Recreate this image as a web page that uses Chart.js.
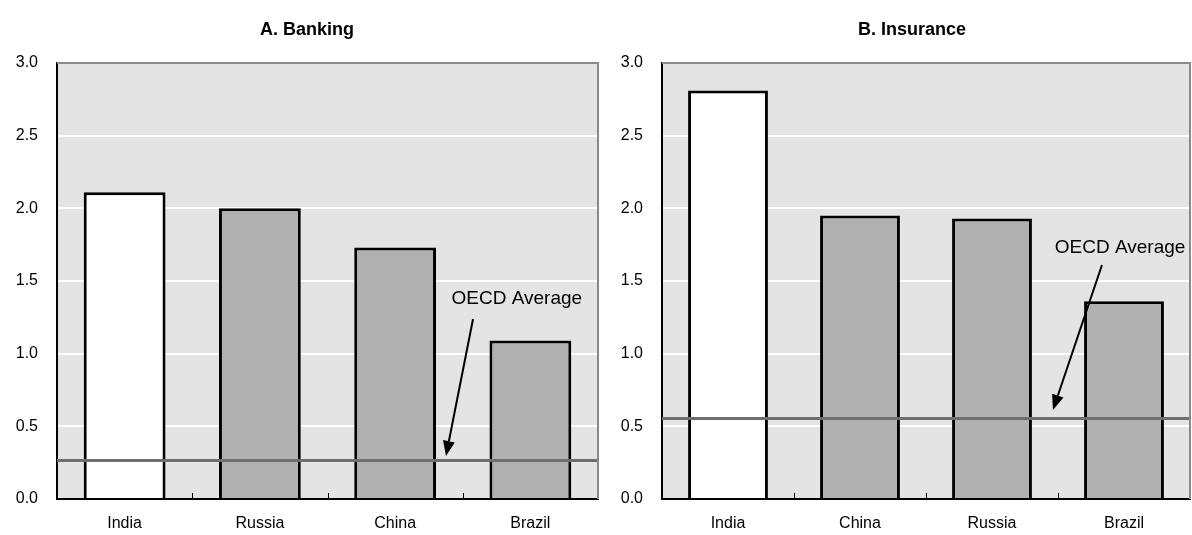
<!DOCTYPE html>
<html><head><meta charset="utf-8">
<script src="https://cdn.jsdelivr.net/npm/chart.js@4.4.1/dist/chart.umd.min.js"></script>
<style>
html,body{margin:0;padding:0;background:#fff;overflow:hidden;width:1192px;height:535px}
#a{position:absolute;left:0;top:0}
#b{position:absolute;left:600px;top:0}
</style>
</head><body>
<canvas id="a" width="600" height="535"></canvas>
<canvas id="b" width="592" height="535"></canvas>
<script>
// ---- data ----
const titleA = 'A. Banking';
const catsA = ['India', 'Russia', 'China', 'Brazil'];
const valsA = [2.11, 2.00, 1.73, 1.09];
const oecdA = 0.27;

const titleB = 'B. Insurance';
const catsB = ['India', 'China', 'Russia', 'Brazil'];
const valsB = [2.81, 1.95, 1.93, 1.36];
const oecdB = 0.56;

const yTickVals = [0, 0.5, 1.0, 1.5, 2.0, 2.5, 3.0];
const noteLabel = 'OECD Average';

// ---- styles ----
const FONT = '"Liberation Sans", Arial, sans-serif';
const BG = '#e4e4e4';
const BAR = '#b0b0b0';
const HIGHLIGHT = '#ffffff';
const LINE = '#6e6e6e';
const FRAME = '#8a8a8a';

const panelPlugin = {
  id: 'panel',
  beforeDraw(chart) {
    const {ctx, chartArea: a} = chart;
    ctx.save();
    ctx.fillStyle = BG;
    ctx.fillRect(a.left, a.top, a.right - a.left, a.bottom - a.top);
    ctx.restore();
  },
  afterDatasetsDraw(chart, args, o) {
    const {ctx, chartArea: a, scales: {x, y}} = chart;
    ctx.save();
    // OECD average line
    const yl = Math.round(y.getPixelForValue(o.avg)) + 0.5;
    ctx.strokeStyle = LINE; ctx.lineWidth = 3;
    ctx.beginPath(); ctx.moveTo(a.left, yl); ctx.lineTo(a.right, yl); ctx.stroke();
    // top / right frame
    ctx.strokeStyle = FRAME; ctx.lineWidth = 2;
    ctx.beginPath();
    ctx.moveTo(a.left, a.top); ctx.lineTo(a.right, a.top); ctx.lineTo(a.right, a.bottom);
    ctx.stroke();
    // category boundary tick marks (inside)
    ctx.strokeStyle = '#000'; ctx.lineWidth = 1;
    const n = chart.data.labels.length;
    for (let i = 0; i < n - 1; i++) {
      const px = Math.round(x.getPixelForValue(i + 0.5)) + 0.5;
      ctx.beginPath(); ctx.moveTo(px, a.bottom); ctx.lineTo(px, a.bottom - 6); ctx.stroke();
    }
    // annotation text
    ctx.fillStyle = '#000';
    ctx.font = '19px ' + FONT;
    ctx.textAlign = 'center'; ctx.textBaseline = 'middle';
    ctx.fillText(noteLabel, x.getPixelForValue(o.textAt[0]), y.getPixelForValue(o.textAt[1]));
    // arrow
    const x1 = x.getPixelForValue(o.arrowFrom[0]), y1 = y.getPixelForValue(o.arrowFrom[1]);
    const x2 = x.getPixelForValue(o.arrowTo[0]), y2 = y.getPixelForValue(o.arrowTo[1]);
    const ang = Math.atan2(y2 - y1, x2 - x1);
    const hl = 15, hw = 6;
    const bx = x2 - hl * Math.cos(ang), by = y2 - hl * Math.sin(ang);
    ctx.strokeStyle = '#000'; ctx.lineWidth = 2;
    ctx.beginPath(); ctx.moveTo(x1, y1); ctx.lineTo(bx, by); ctx.stroke();
    ctx.beginPath();
    ctx.moveTo(x2, y2);
    ctx.lineTo(bx + hw * Math.sin(ang), by - hw * Math.cos(ang));
    ctx.lineTo(bx - hw * Math.sin(ang), by + hw * Math.cos(ang));
    ctx.closePath(); ctx.fill();
    // panel title
    ctx.font = 'bold 18px ' + FONT;
    ctx.textBaseline = 'alphabetic';
    ctx.fillText(o.title, o.titleX, 35);
    ctx.restore();
  }
};

function makeChart(id, title, titleX, cats, vals, avg, yAxisWidth, note) {
  return new Chart(document.getElementById(id), {
    type: 'bar',
    data: {
      labels: cats,
      datasets: [{
        data: vals,
        backgroundColor: cats.map((c, i) => i === 0 ? HIGHLIGHT : BAR),
        borderColor: '#000',
        borderWidth: 3,
        borderSkipped: 'start',
        categoryPercentage: 1.0,
        barPercentage: 0.605
      }]
    },
    options: {
      responsive: false,
      animation: false,
      devicePixelRatio: 1,
      layout: {padding: {top: 63, right: 2, bottom: 0, left: 0}},
      plugins: {
        legend: {display: false},
        tooltip: {enabled: false},
        title: {display: false},
        panel: Object.assign({avg: avg, title: title, titleX: titleX}, note)
      },
      scales: {
        x: {
          offset: true,
          grid: {display: false, drawTicks: false},
          border: {display: true, color: '#000', width: 2},
          ticks: {color: '#000', font: {family: FONT, size: 16}, padding: 15, maxRotation: 0},
          afterFit(s) { s.height = 36; }
        },
        y: {
          min: 0, max: 3,
          afterBuildTicks(s) { s.ticks = yTickVals.map(v => ({value: v})); },
          grid: {color: '#ffffff', lineWidth: 2, drawTicks: false},
          border: {display: true, color: '#000', width: 2},
          ticks: {color: '#000', font: {family: FONT, size: 16}, padding: 19,
                  callback: v => Number(v).toFixed(1)},
          afterFit(s) { s.width = yAxisWidth; }
        }
      }
    },
    plugins: [panelPlugin]
  });
}

makeChart('a', titleA, 307, catsA, valsA, oecdA, 57,
  {textAt: [2.90, 1.376], arrowFrom: [2.576, 1.239], arrowTo: [2.376, 0.296]});
makeChart('b', titleB, 312, catsB, valsB, oecdB, 62,
  {textAt: [2.97, 1.727], arrowFrom: [2.833, 1.61], arrowTo: [2.462, 0.613]});
</script>
</body></html>
